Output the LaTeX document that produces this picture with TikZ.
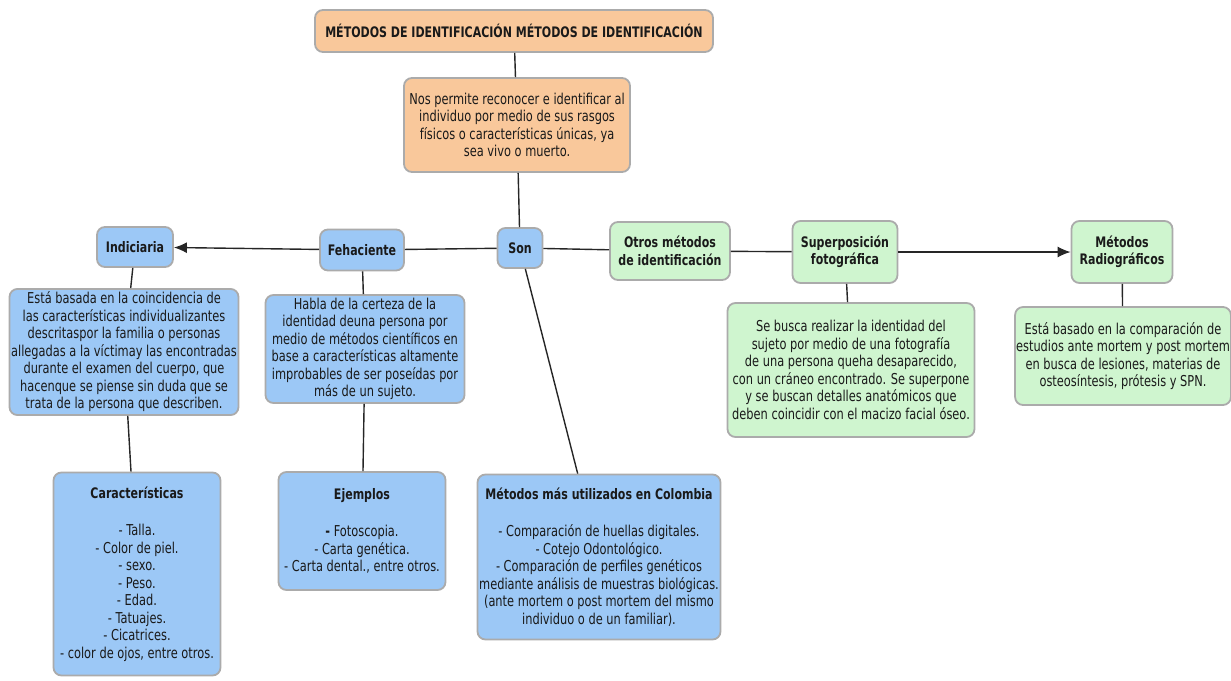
\documentclass[tikz,border=0pt]{standalone}
\usepackage{fontspec}
\setmainfont{DejaVu Sans}[FakeStretch=0.76]
\usepackage{tikz}
\usetikzlibrary{arrows.meta}
\definecolor{peach}{HTML}{F9C89B}
\definecolor{sky}{HTML}{9CC8F6}
\definecolor{mint}{HTML}{CFF5CF}
\definecolor{rim}{HTML}{ABABAB}
\definecolor{ink}{HTML}{1A1A1A}
\newcommand{\heading}[1]{{\fontsize{14.5}{17}\selectfont\textbf{#1}}}
\tikzstyle{box} = [rectangle, draw=rim, line width=1.8pt, rounded corners=8pt,
    text=ink, align=center, inner xsep=1pt, inner ysep=3pt, font=\fontsize{15}{17.5}\selectfont]
\tikzstyle{orangebox} = [box, fill=peach]
\tikzstyle{bluebox} = [box, fill=sky]
\tikzstyle{greenbox} = [box, fill=mint]
\tikzstyle{line} = [draw, line width=1.4pt, black!85]
\tikzstyle{arrowline} = [line, -{Latex[length=13pt,width=11pt]}]

\begin{document}
\begin{tikzpicture}[x=1pt, y=-1pt]
                \useasboundingbox (0,0) rectangle (1231,680);
                \node [orangebox, minimum width=398, minimum height=42] at (514,31) (title) {\heading{MÉTODOS DE IDENTIFICACIÓN MÉTODOS DE IDENTIFICACIÓN}};
                \node [orangebox, minimum width=226, minimum height=94] at (517,125) (intro) {Nos permite reconocer e identificar al\\ individuo por medio de sus rasgos\\ físicos o características únicas, ya\\ sea vivo o muerto.};
                \node [bluebox, minimum width=45, minimum height=40] at (520,248) (son) {\heading{Son}};
                \node [bluebox, minimum width=84, minimum height=41] at (362,250) (fehaciente) {\heading{Fehaciente}};
                \node [bluebox, minimum width=76, minimum height=40] at (135,247) (indiciaria) {\heading{Indiciaria}};
                \node [bluebox, minimum width=229, minimum height=126] at (124,352) (inddesc) {Está basada en la coincidencia de\\ las características individualizantes\\ descritaspor la familia o personas\\ allegadas a la víctimay las encontradas\\ durante el examen del cuerpo, que\\ hacenque se piense sin duda que se\\ trata de la persona que describen.};
                \node [bluebox, minimum width=167, minimum height=203] at (137,574) (caract) {\heading{Características}\\[20pt] - Talla.\\ - Color de piel.\\ - sexo.\\ - Peso.\\ - Edad.\\ - Tatuajes.\\ - Cicatrices.\\ - color de ojos, entre otros.};
                \node [bluebox, minimum width=199, minimum height=106] at (365,349) (fehdesc) {Habla de la certeza de la\\ identidad deuna persona por\\ medio de métodos científicos en\\ base a características altamente\\ improbables de ser poseídas por\\ más de un sujeto.};
                \node [bluebox, minimum width=167, minimum height=118] at (362,531) (ejemplos) {\heading{Ejemplos}\\[20pt] \textbf{-} Fotoscopia.\\ - Carta genética.\\ - Carta dental., entre otros.};
                \node [bluebox, minimum width=243, minimum height=165] at (599,557) (colombia) {\heading{Métodos más utilizados en Colombia}\\[20pt] - Comparación de huellas digitales.\\ - Cotejo Odontológico.\\ - Comparación de perfiles genéticos\\ mediante análisis de muestras biológicas.\\ (ante mortem o post mortem del mismo\\ individuo o de un familiar).};
                \node [greenbox, minimum width=120, minimum height=58] at (670,251) (otros) {\heading{Otros métodos}\\ \heading{de identificación}};
                \node [greenbox, minimum width=105, minimum height=62] at (845,252) (superpos) {\heading{Superposición}\\ \heading{fotográfica}};
                \node [greenbox, minimum width=101, minimum height=62] at (1122,252) (radio) {\heading{Métodos}\\ \heading{Radiográficos}};
                \node [greenbox, minimum width=247, minimum height=134] at (851,370) (supdesc) {Se busca realizar la identidad del\\ sujeto por medio de una fotografía\\ de una persona queha desaparecido,\\ con un cráneo encontrado. Se superpone\\ y se buscan detalles anatómicos que\\ deben coincidir con el macizo facial óseo.};
                \node [greenbox, minimum width=211, minimum height=98] at (1123,356) (radiodesc) {Está basado en la comparación de\\ estudios ante mortem y post mortem\\ en busca de lesiones, materias de\\ osteosíntesis, prótesis y SPN.};
                \path [line] (title) -- (intro);
                \path [line] (intro) -- (son);
                \path [line] (son) -- (fehaciente);
                \path [arrowline] (fehaciente) -- (indiciaria);
                \path [line] (indiciaria) -- (inddesc);
                \path [line] (inddesc) -- (caract);
                \path [line] (fehaciente) -- (fehdesc);
                \path [line] (fehdesc) -- (ejemplos);
                \path [line] (son) -- (colombia);
                \path [line] (son) -- (otros);
                \path [line] (otros) -- (superpos);
                \path [arrowline] (superpos) -- (radio);
                \path [line] (superpos) -- (supdesc);
                \path [line] (radio) -- (radiodesc);
            \end{tikzpicture}
\end{document}
